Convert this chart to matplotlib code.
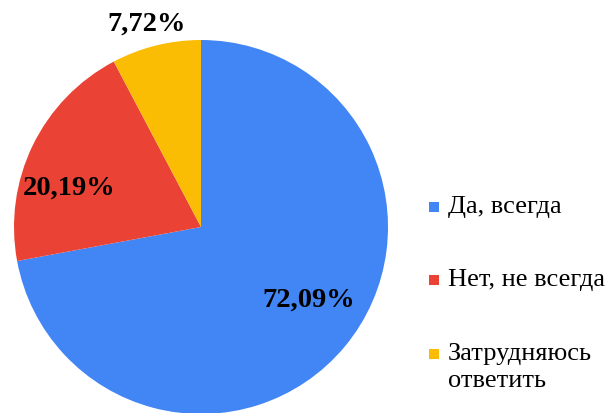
import matplotlib.pyplot as plt
import numpy as np

categories = ['Да, всегда', 'Нет, не всегда', 'Затрудняюсь\nответить']
values = [72.09, 20.19, 7.72]
value_labels = ['72,09%', '20,19%', '7,72%']
colors = ['#4285F4', '#EA4335', '#FBBC04']

plt.rcParams['font.family'] = ['Liberation Serif', 'DejaVu Serif']

fig = plt.figure(figsize=(6.16, 4.14), dpi=100)
ax = fig.add_axes([0, 0, 1, 1])

cx, cy, r = 201, 414 - 228, 187
wedges, _ = ax.pie(values, colors=colors, startangle=90, counterclock=False,
                   center=(cx, cy), radius=r, frame=True)
ax.set_xlim(0, 616)
ax.set_ylim(0, 414)
ax.set_aspect('equal')
ax.axis('off')

# label placement: fraction of radius and angle shift from wedge middle
label_r = [0.69, 0.74, 1.13]
label_shift = [6, 9, 1]
start = 90.0
for v, lab, lr, sh in zip(values, value_labels, label_r, label_shift):
    ang = np.deg2rad(start - v * 3.6 / 2 + sh)
    start -= v * 3.6
    ax.text(cx + lr * r * np.cos(ang), cy + lr * r * np.sin(ang), lab,
            ha='center', va='center', fontsize=20.5, fontweight='bold')

# legend drawn by hand so the marker sits on the first line of text
leg_y = [414 - 208, 414 - 281, 414 - 355]
for cat, col, y in zip(categories, colors, leg_y):
    ax.scatter([434], [y], marker='s', s=62, color=col, linewidths=0)
    ax.text(448, y + 12, cat, ha='left', va='top', fontsize=19,
            linespacing=1.3)

fig.savefig('out.png', dpi=100)
